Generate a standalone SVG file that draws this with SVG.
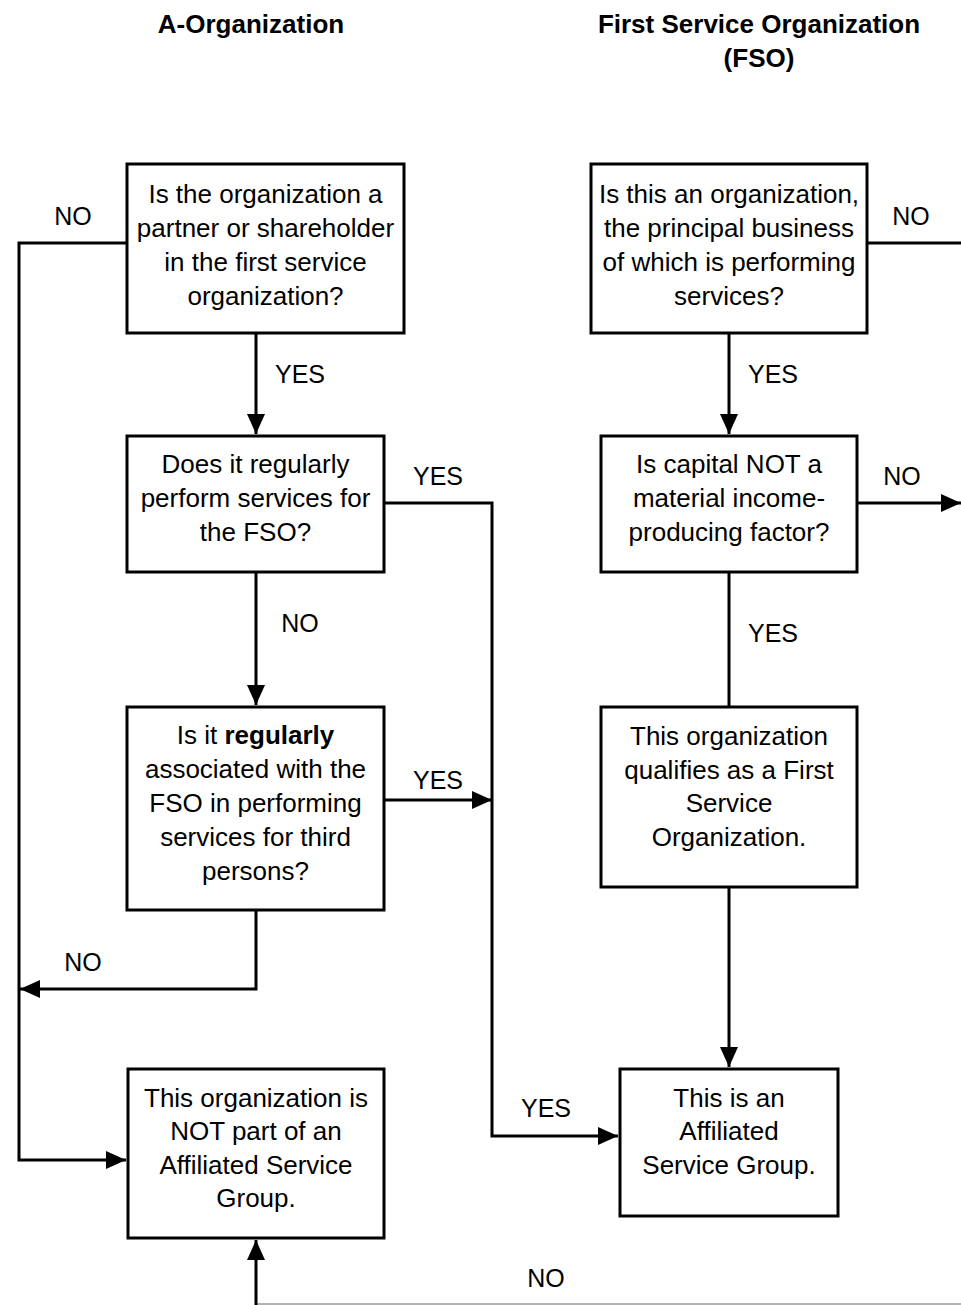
<svg xmlns="http://www.w3.org/2000/svg" width="961" height="1305" viewBox="0 0 961 1305">
<style>
.box{fill:#fff;stroke:#000;stroke-width:3}
.t{font-family:"Liberation Sans",Arial,sans-serif;font-size:26px;fill:#000;text-anchor:middle}
.lbl{font-family:"Liberation Sans",Arial,sans-serif;font-size:25px;fill:#000;text-anchor:middle}
.title{font-family:"Liberation Sans",Arial,sans-serif;font-size:26px;font-weight:bold;fill:#000;text-anchor:middle}
.c{fill:none;stroke:#000;stroke-width:3}
.a{marker-end:url(#arr)}
</style>
<defs>
<marker id="arr" markerUnits="userSpaceOnUse" markerWidth="22" markerHeight="20" refX="20" refY="9" orient="auto">
<path d="M0,0 L20,9 L0,18 z" fill="#000"/>
</marker>
</defs>
<g id="titles">
<text class="title" x="251" y="33">A-Organization</text>
<text class="title" x="759" y="33">First Service Organization</text>
<text class="title" x="759" y="67">(FSO)</text>
</g>
<g id="connectors">
<polyline class="c a" points="127,243 19,243 19,1160 126,1160"/>
<line class="c a" x1="256" y1="333" x2="256" y2="434"/>
<line class="c a" x1="256" y1="572" x2="256" y2="705"/>
<polyline class="c a" points="384,503 492,503 492,1136 618,1136"/>
<line class="c a" x1="384" y1="800" x2="492" y2="800"/>
<polyline class="c a" points="256,910 256,989 20,989"/>
<line class="c a" x1="729" y1="333" x2="729" y2="434"/>
<line class="c" x1="729" y1="572" x2="729" y2="707"/>
<line class="c a" x1="729" y1="887" x2="729" y2="1067"/>
<line class="c" x1="867" y1="243" x2="961" y2="243"/>
<line class="c a" x1="857" y1="503" x2="961" y2="503"/>
<line x1="961" y1="1304" x2="256" y2="1304" stroke="#999" stroke-width="1.5"/>
<line class="c a" x1="256" y1="1305" x2="256" y2="1240"/>
</g>
<g id="labels">
<text class="lbl" x="73" y="225">NO</text>
<text class="lbl" x="300" y="383">YES</text>
<text class="lbl" x="438" y="485">YES</text>
<text class="lbl" x="300" y="632">NO</text>
<text class="lbl" x="438" y="789">YES</text>
<text class="lbl" x="83" y="971">NO</text>
<text class="lbl" x="546" y="1117">YES</text>
<text class="lbl" x="911" y="225">NO</text>
<text class="lbl" x="773" y="383">YES</text>
<text class="lbl" x="902" y="485">NO</text>
<text class="lbl" x="773" y="642">YES</text>
<text class="lbl" x="546" y="1287">NO</text>
</g>
<g id="a1">
<rect class="box" x="127" y="164" width="277" height="169"/>
<text class="t" x="265.5" y="203">Is the organization a</text>
<text class="t" x="265.5" y="237">partner or shareholder</text>
<text class="t" x="265.5" y="271">in the first service</text>
<text class="t" x="265.5" y="305">organization?</text>
</g>
<g id="a2">
<rect class="box" x="127" y="436" width="257" height="136"/>
<text class="t" x="255.5" y="473">Does it regularly</text>
<text class="t" x="255.5" y="507">perform services for</text>
<text class="t" x="255.5" y="541">the FSO?</text>
</g>
<g id="a3">
<rect class="box" x="127" y="707" width="257" height="203"/>
<text class="t" x="255.5" y="744">Is it <tspan font-weight="bold">regularly</tspan></text>
<text class="t" x="255.5" y="778">associated with the</text>
<text class="t" x="255.5" y="812">FSO in performing</text>
<text class="t" x="255.5" y="846">services for third</text>
<text class="t" x="255.5" y="880">persons?</text>
</g>
<g id="a4">
<rect class="box" x="128" y="1069" width="256" height="169"/>
<text class="t" x="256" y="1107">This organization is</text>
<text class="t" x="256" y="1140">NOT part of an</text>
<text class="t" x="256" y="1174">Affiliated Service</text>
<text class="t" x="256" y="1207">Group.</text>
</g>
<g id="f1">
<rect class="box" x="591" y="164" width="276" height="169"/>
<text class="t" x="729" y="203">Is this an organization,</text>
<text class="t" x="729" y="237">the principal business</text>
<text class="t" x="729" y="271">of which is performing</text>
<text class="t" x="729" y="305">services?</text>
</g>
<g id="f2">
<rect class="box" x="601" y="436" width="256" height="136"/>
<text class="t" x="729" y="473">Is capital NOT a</text>
<text class="t" x="729" y="507">material income-</text>
<text class="t" x="729" y="541">producing factor?</text>
</g>
<g id="f3">
<rect class="box" x="601" y="707" width="256" height="180"/>
<text class="t" x="729" y="745">This organization</text>
<text class="t" x="729" y="779">qualifies as a First</text>
<text class="t" x="729" y="812">Service</text>
<text class="t" x="729" y="846">Organization.</text>
</g>
<g id="f4">
<rect class="box" x="620" y="1069" width="218" height="147"/>
<text class="t" x="729" y="1107">This is an</text>
<text class="t" x="729" y="1140">Affiliated</text>
<text class="t" x="729" y="1174">Service Group.</text>
</g>
</svg>
